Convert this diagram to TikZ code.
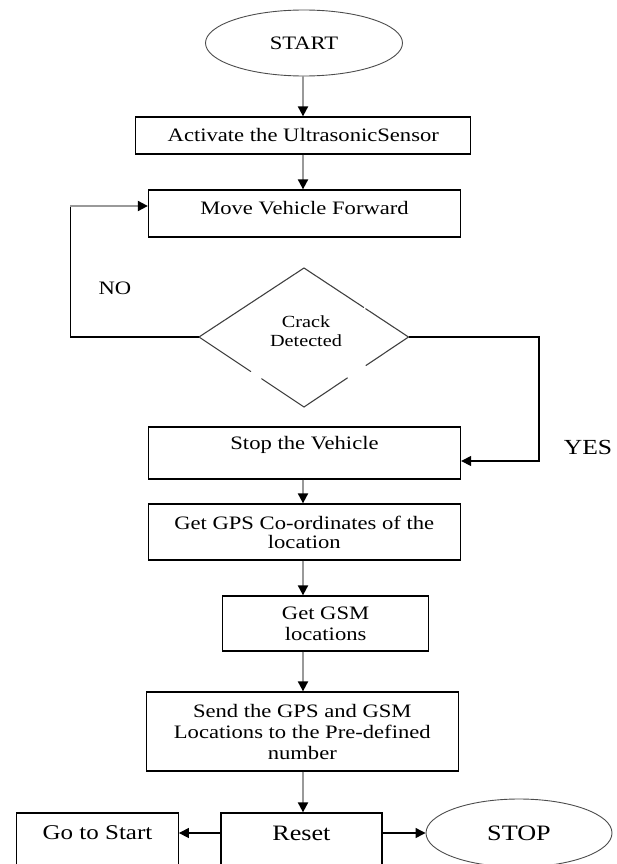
\documentclass[tikz,border=0pt]{standalone}
\usepackage{fontspec}
\setmainfont{Liberation Serif}[FakeStretch=1.19]
\usetikzlibrary{arrows.meta,shapes.geometric,calc}
\begin{document}
\begin{tikzpicture}[x=1pt,y=-1pt,
  box/.style={draw=black, line width=1.3pt, rectangle, inner sep=0pt},
  term/.style={draw=black!70, line width=0.9pt, ellipse, inner sep=0pt},
  txt/.style={font=\fontsize{19}{20}\selectfont, align=center, inner sep=0pt, text=black},
  dline/.style={draw=black!75, line width=1.1pt, line cap=round},
  bline/.style={draw=black, line width=1.2pt},
  garr/.style={draw=black!40, line width=2pt, -{Triangle[length=10pt,width=10pt,color=black]}},
  barr/.style={draw=black, line width=1.2pt, -{Triangle[length=10pt,width=10pt,color=black]}}]
\useasboundingbox (0,0) rectangle (617,864);
\coordinate (ax) at (303,0);

% terminals and boxes
\node[term, minimum width=197pt, minimum height=66pt, txt] (start) at (304,43) {START};
\node[box, minimum width=335pt, minimum height=37pt, txt] (act) at (303.3,135.5) {Activate the UltrasonicSensor};
\node[box, minimum width=312pt, minimum height=47pt,
      label={[txt,yshift=5.5pt]center:Move Vehicle Forward}] (move) at (304.5,213.5) {};

% decision
\coordinate (dN) at (304,268);
\coordinate (dE) at (408.5,337);
\coordinate (dS) at (304,407);
\coordinate (dW) at (199,337);
\draw[dline] (dW) -- (dN) -- ($(dN)!0.571!(dE)$);
\draw[dline] ($(dN)!0.59!(dE)$) -- (dE) -- ($(dE)!0.407!(dS)$);
\draw[dline] ($(dE)!0.585!(dS)$) -- (dS) -- ($(dS)!0.403!(dW)$);
\draw[dline] ($(dS)!0.507!(dW)$) -- (dW);
\node[txt, font=\fontsize{17}{19.5}\selectfont] (dia) at (306,331) {Crack\\Detected};

\node[txt] (no) at (115,288) {NO};
\node[txt, font=\fontsize{21.5}{22}\selectfont] (yes) at (588,447) {YES};

\node[box, minimum width=312pt, minimum height=52pt,
      label={[txt,yshift=8pt]center:Stop the Vehicle}] (stop) at (304.5,453) {};
\node[box, minimum width=312pt, minimum height=56pt, txt, font=\fontsize{19}{19}\selectfont] (gps) at (304.3,532) {Get GPS Co-ordinates of the\\location};
\node[box, minimum width=205.6pt, minimum height=55pt, txt, font=\fontsize{19}{21}\selectfont] (gsm) at (325.6,623.5) {Get GSM\\locations};
\node[box, minimum width=312pt, minimum height=79pt, txt, font=\fontsize{19}{21}\selectfont] (send) at (302.3,731.5) {Send the GPS and GSM\\Locations to the Pre-defined\\number};

\node[box, minimum width=161pt, minimum height=70pt,
      label={[txt,font=\fontsize{22}{22}\selectfont,yshift=15pt]center:Reset}] (reset) at (301.4,848) {};
\node[box, minimum width=161.5pt, minimum height=70pt,
      label={[txt,font=\fontsize{21}{21}\selectfont,yshift=15pt]center:Go to Start}] (gts) at (97.5,848) {};
\node[term, minimum width=186pt, minimum height=68pt, txt, font=\fontsize{22}{22}\selectfont] (endn) at (519,833) {STOP};

% connectors
\draw[garr] (start.south -| ax) -- (act.north -| ax);
\draw[garr] (act.south -| ax) -- (move.north -| ax);
\draw[garr] (stop.south -| ax) -- (gps.north -| ax);
\draw[garr] (gps.south -| ax) -- (gsm.north -| ax);
\draw[garr] (gsm.south -| ax) -- (send.north -| ax);
\draw[garr] (send.south -| ax) -- (reset.north -| ax);

\coordinate (lb) at (70.4,337);
\coordinate (lt) at (70.4,206);
\draw[bline] (dW) -- (lb) -- (lt);
\draw[garr] (lt) -- (lt -| move.west);

\coordinate (rt) at (539,337);
\coordinate (rb) at (539,461);
\draw[barr] (dE) -- (rt) -- (rb) -- (rb -| stop.east);

\coordinate (row) at (0,833);
\draw[barr] (reset.west |- row) -- (gts.east |- row);
\draw[barr] (reset.east |- row) -- (endn.west);
\end{tikzpicture}
\end{document}
